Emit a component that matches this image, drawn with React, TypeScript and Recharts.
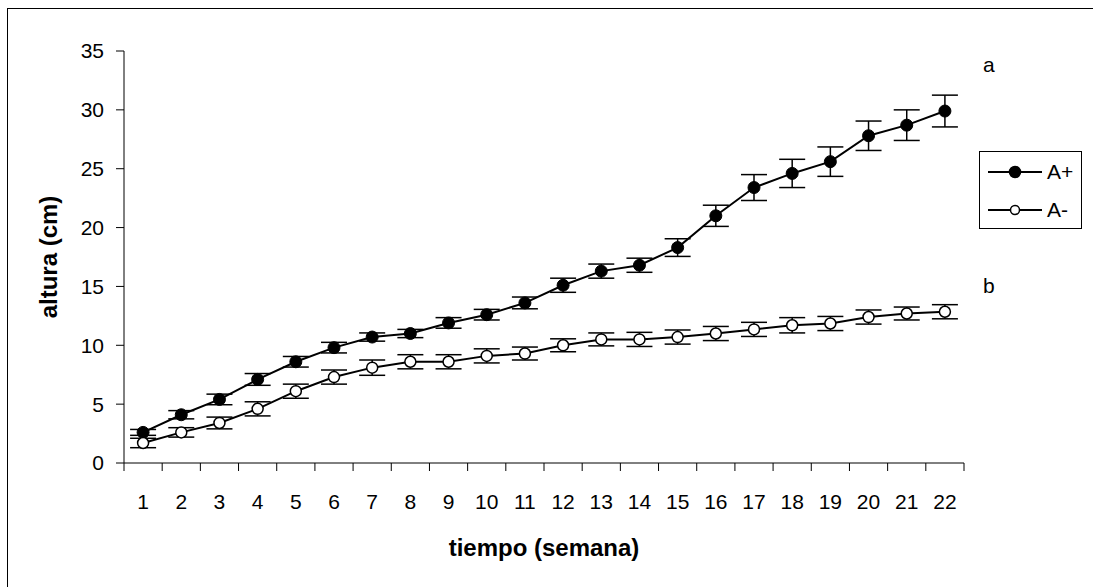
import React from 'react'
import { ComposedChart, Line, XAxis, YAxis, ErrorBar } from 'recharts'

// semanas
const weeks = [1, 2, 3, 4, 5, 6, 7, 8, 9, 10, 11, 12, 13, 14, 15, 16, 17, 18, 19, 20, 21, 22]

// A+ (con micorriza) altura media y error
const aPlus = [2.6, 4.1, 5.4, 7.1, 8.6, 9.8, 10.7, 11.0, 11.9, 12.6, 13.6, 15.1, 16.3, 16.8, 18.3, 21.0, 23.4, 24.6, 25.6, 27.8, 28.7, 29.9]
const aPlusErr = [0.25, 0.35, 0.45, 0.5, 0.45, 0.45, 0.35, 0.35, 0.45, 0.45, 0.5, 0.6, 0.6, 0.6, 0.75, 0.9, 1.1, 1.2, 1.25, 1.25, 1.3, 1.35]

// A- (sin micorriza)
const aMinus = [1.7, 2.6, 3.4, 4.6, 6.1, 7.3, 8.1, 8.6, 8.6, 9.1, 9.3, 10.0, 10.5, 10.5, 10.7, 11.0, 11.35, 11.7, 11.85, 12.4, 12.7, 12.85]
const aMinusErr = [0.4, 0.4, 0.5, 0.6, 0.6, 0.6, 0.65, 0.6, 0.6, 0.6, 0.55, 0.55, 0.55, 0.6, 0.6, 0.6, 0.6, 0.65, 0.6, 0.6, 0.55, 0.6]

const yTicks = [0, 5, 10, 15, 20, 25, 30, 35]
// tick marks between the weeks
const edgeTicks = [...weeks.map((w) => w - 0.5), weeks[weeks.length - 1] + 0.5]

const rows = weeks.map((week, i) => ({
  week,
  aPlus: aPlus[i],
  aPlusErr: aPlusErr[i],
  aMinus: aMinus[i],
  aMinusErr: aMinusErr[i],
}))

const FONT = "'Liberation Sans', Arial, sans-serif"
const tickStyle = { fill: '#000', fontSize: 21, fontFamily: FONT }
const titleStyle = { fill: '#000', fontSize: 24, fontWeight: 'bold', fontFamily: FONT }

function LegendBox() {
  const item = (label: string, filled: boolean) => (
    <div style={{ display: 'flex', alignItems: 'center', height: 38 }}>
      <svg width={60} height={14} style={{ marginLeft: 6 }}>
        <line x1={2} y1={7} x2={56} y2={7} stroke="#000" strokeWidth={2} />
        <circle cx={29} cy={7} r={filled ? 5.5 : 4.5} fill={filled ? '#000' : '#fff'} stroke="#000" strokeWidth={1.5} />
      </svg>
      <span style={{ fontSize: 21, marginLeft: 1 }}>{label}</span>
    </div>
  )
  return (
    <div
      style={{
        position: 'absolute',
        left: 979,
        top: 151,
        width: 103,
        height: 78,
        border: '1px solid #000',
        boxSizing: 'border-box',
        paddingTop: 1,
      }}
    >
      {item('A+', true)}
      {item('A-', false)}
    </div>
  )
}

export default function App() {
  return (
    <div
      style={{
        position: 'absolute',
        left: 0,
        top: 0,
        width: 1093,
        height: 587,
        overflow: 'hidden',
        background: '#fff',
        fontFamily: FONT,
        color: '#000',
      }}
    >
      <div
        style={{
          position: 'absolute',
          left: 7,
          top: 8,
          width: 1090,
          height: 590,
          borderTop: '1px solid #000',
          borderLeft: '1px solid #000',
        }}
      />
      <ComposedChart
        width={1093}
        height={587}
        data={rows}
        margin={{ top: 51, right: 129, left: 14, bottom: 27 }}
        style={{ position: 'absolute', left: 0, top: 0 }}
      >
        <XAxis
          xAxisId="edges"
          dataKey="week"
          type="number"
          domain={[0.5, 22.5]}
          ticks={edgeTicks}
          tickFormatter={() => ''}
          tickSize={8}
          height={1}
          axisLine={{ stroke: '#000' }}
          tickLine={{ stroke: '#000' }}
        />
        <XAxis
          xAxisId="labels"
          dataKey="week"
          type="number"
          domain={[0.5, 22.5]}
          ticks={weeks}
          interval={0}
          axisLine={false}
          tickLine={false}
          tickSize={0}
          tickMargin={30}
          height={96}
          tick={tickStyle}
          label={{
            value: 'tiempo (semana)',
            position: 'insideBottom',
            offset: 4,
            style: titleStyle,
          }}
        />
        <YAxis
          domain={[0, 35]}
          ticks={yTicks}
          width={110}
          tickSize={8}
          tickMargin={12}
          tick={tickStyle}
          axisLine={{ stroke: '#000' }}
          tickLine={{ stroke: '#000' }}
          label={{
            value: 'altura (cm)',
            angle: -90,
            position: 'insideLeft',
            offset: 34,
            style: { ...titleStyle, textAnchor: 'middle' },
          }}
        />
        <Line
          xAxisId="edges"
          dataKey="aPlus"
          stroke="#000"
          strokeWidth={2}
          dot={{ r: 6, fill: '#000', stroke: '#000', strokeWidth: 1 }}
          isAnimationActive={false}
        >
          <ErrorBar dataKey="aPlusErr" width={13} stroke="#000" strokeWidth={1.5} isAnimationActive={false} />
        </Line>
        <Line
          xAxisId="edges"
          dataKey="aMinus"
          stroke="#000"
          strokeWidth={2}
          dot={{ r: 5.5, fill: '#fff', stroke: '#000', strokeWidth: 1.5 }}
          isAnimationActive={false}
        >
          <ErrorBar dataKey="aMinusErr" width={13} stroke="#000" strokeWidth={1.5} isAnimationActive={false} />
        </Line>
      </ComposedChart>
      <LegendBox />
      <div style={{ position: 'absolute', left: 983, top: 53, fontSize: 21 }}>a</div>
      <div style={{ position: 'absolute', left: 983, top: 274, fontSize: 21 }}>b</div>
    </div>
  )
}
